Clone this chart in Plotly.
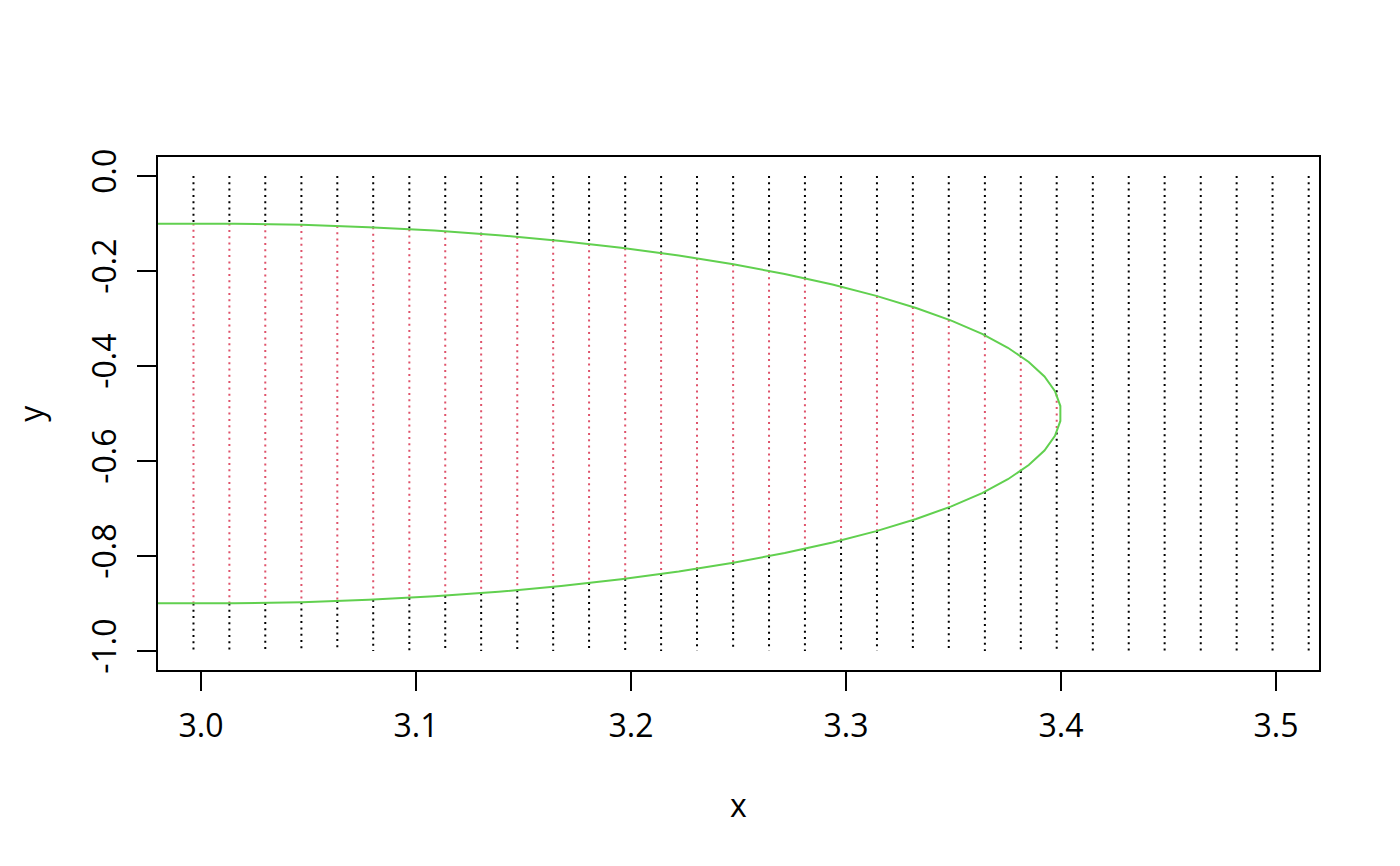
import plotly.graph_objects as go

# ---- data ----
# x positions of the vertical dotted lines
line_x = [2.9965, 3.0132, 3.0299, 3.0467, 3.0634, 3.0801, 3.0969, 3.1136, 3.1303,
          3.1471, 3.1638, 3.1805, 3.1973, 3.2140, 3.2307, 3.2475, 3.2642, 3.2809,
          3.2977, 3.3144, 3.3311, 3.3478, 3.3646, 3.3813, 3.3980, 3.4148, 3.4315,
          3.4482, 3.4650, 3.4817, 3.4984, 3.5152]
line_top = 0.0
line_bottom = -1.0
# upper / lower crossing of each line with the green curve (None = no crossing)
cross_upper = [-0.1000, -0.1002, -0.1011, -0.1027, -0.1051, -0.1081, -0.1119, -0.1165,
               -0.1218, -0.1280, -0.1351, -0.1430, -0.1520, -0.1621, -0.1732, -0.1858,
               -0.1997, -0.2152, -0.2328, -0.2527, -0.2756, -0.3024, -0.3355, -0.3791,
               -0.4600, None, None, None, None, None, None, None]
cross_lower = [-0.9000, -0.8998, -0.8989, -0.8973, -0.8949, -0.8919, -0.8881, -0.8835,
               -0.8782, -0.8720, -0.8649, -0.8570, -0.8480, -0.8379, -0.8268, -0.8142,
               -0.8003, -0.7848, -0.7672, -0.7473, -0.7244, -0.6976, -0.6645, -0.6209,
               -0.5400, None, None, None, None, None, None, None]

# green curve vertices (upper half from left to tip, then lower half back)
curve_x = [2.9530, 2.9843, 3.0157, 3.0470, 3.0780, 3.1086, 3.1384, 3.1675, 3.1954,
           3.2222, 3.2476, 3.2715, 3.2937, 3.3141, 3.3326, 3.3490, 3.3633, 3.3753,
           3.3850, 3.3923, 3.3972, 3.3997,
           3.3997, 3.3972, 3.3923, 3.3850, 3.3753, 3.3633, 3.3490, 3.3326, 3.3141,
           3.2937, 3.2715, 3.2476, 3.2222, 3.1954, 3.1675, 3.1384, 3.1086, 3.0780,
           3.0470, 3.0157, 2.9843, 2.9530]
curve_y = [-0.1028, -0.1003, -0.1003, -0.1028, -0.1077, -0.1150, -0.1247, -0.1367, -0.1510,
           -0.1674, -0.1859, -0.2063, -0.2285, -0.2524, -0.2778, -0.3045, -0.3325, -0.3616,
           -0.3914, -0.4220, -0.4530, -0.4843,
           -0.5157, -0.5470, -0.5780, -0.6086, -0.6384, -0.6675, -0.6955, -0.7222, -0.7476,
           -0.7715, -0.7937, -0.8141, -0.8326, -0.8490, -0.8633, -0.8753, -0.8850, -0.8923,
           -0.8972, -0.8997, -0.8997, -0.8972]

x_ticks = [3.0, 3.1, 3.2, 3.3, 3.4, 3.5]
x_tick_labels = ["3.0", "3.1", "3.2", "3.3", "3.4", "3.5"]
y_ticks = [0.0, -0.2, -0.4, -0.6, -0.8, -1.0]
y_tick_labels = ["0.0", "-0.2", "-0.4", "-0.6", "-0.8", "-1.0"]

# ---- build segment traces ----
bx, by, rx, ry = [], [], [], []
for xv, up, lo in zip(line_x, cross_upper, cross_lower):
    if up is None:
        bx += [xv, xv, None]
        by += [line_top, line_bottom, None]
    else:
        bx += [xv, xv, None, xv, xv, None]
        by += [line_top, up, None, lo, line_bottom, None]
        rx += [xv, xv, None]
        ry += [up, lo, None]

DOT = "2px,4.3px"
FONT = "Open Sans"

fig = go.Figure()
fig.add_trace(go.Scatter(x=bx, y=by, mode="lines", hoverinfo="skip",
                         line=dict(color="black", width=2, dash=DOT)))
fig.add_trace(go.Scatter(x=rx, y=ry, mode="lines", hoverinfo="skip",
                         line=dict(color="#DF536B", width=2, dash=DOT)))
fig.add_trace(go.Scatter(x=curve_x, y=curve_y, mode="lines", hoverinfo="skip",
                         line=dict(color="#61D04F", width=2)))

fig.update_layout(
    width=1400, height=866, autosize=False,
    margin=dict(l=158, r=81, t=157, b=196, pad=0),
    paper_bgcolor="white", plot_bgcolor="white",
    showlegend=False,
    font=dict(family=FONT, size=32, color="black"),
    xaxis=dict(range=[2.98, 3.52], tickvals=x_ticks, ticktext=x_tick_labels,
               showgrid=False, zeroline=False, showline=True, mirror=True,
               linecolor="black", linewidth=1.8, ticks="outside", ticklen=19,
               tickwidth=1.6, tickcolor="black", ticklabelstandoff=8,
               tickfont=dict(family=FONT, size=32, color="black")),
    yaxis=dict(range=[-1.04, 0.04], tickvals=y_ticks, ticktext=y_tick_labels,
               showgrid=False, zeroline=False, showline=True, mirror=True,
               linecolor="black", linewidth=1.8, ticks="outside", ticklen=19,
               tickwidth=1.6, tickcolor="black", tickangle=-90, ticklabelstandoff=8,
               tickfont=dict(family=FONT, size=32, color="black")),
    annotations=[
        dict(text="x", xref="paper", yref="paper", x=0.5, y=-0.262,
             xanchor="center", yanchor="middle", showarrow=False,
             font=dict(family=FONT, size=32, color="black")),
        dict(text="y", xref="paper", yref="paper", x=-0.110, y=0.5,
             xanchor="center", yanchor="middle", showarrow=False, textangle=-90,
             font=dict(family=FONT, size=32, color="black")),
    ],
)

fig.write_html("out.html", config={"displayModeBar": False},
               post_script="document.body.style.margin='0';")
